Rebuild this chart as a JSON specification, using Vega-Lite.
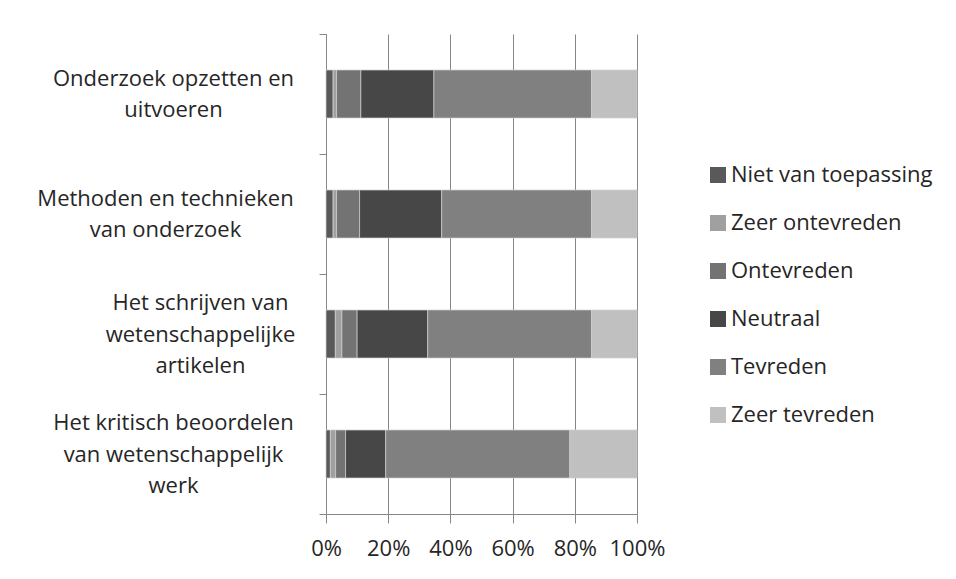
{
  "$schema": "https://vega.github.io/schema/vega-lite/v6.json",
  "width": 311,
  "height": 480,
  "autosize": {"type": "none"},
  "padding": {"left": 326, "top": 34, "right": 319, "bottom": 65},
  "background": "white",
  "config": {
    "view": {"stroke": null},
    "font": "Open Sans",
    "axis": {"labelFont": "Open Sans", "labelColor": "#262626", "labelFontSize": 22}
  },
  "data": {
    "values": [
      {"item": "Onderzoek opzetten en|uitvoeren", "response": "Niet van toepassing", "rank": 1, "pct": 2.3},
      {"item": "Onderzoek opzetten en|uitvoeren", "response": "Zeer ontevreden", "rank": 2, "pct": 1.1},
      {"item": "Onderzoek opzetten en|uitvoeren", "response": "Ontevreden", "rank": 3, "pct": 7.8},
      {"item": "Onderzoek opzetten en|uitvoeren", "response": "Neutraal", "rank": 4, "pct": 23.5},
      {"item": "Onderzoek opzetten en|uitvoeren", "response": "Tevreden", "rank": 5, "pct": 50.7},
      {"item": "Onderzoek opzetten en|uitvoeren", "response": "Zeer tevreden", "rank": 6, "pct": 14.6},
      {"item": "Methoden en technieken|van onderzoek", "response": "Niet van toepassing", "rank": 1, "pct": 2.3},
      {"item": "Methoden en technieken|van onderzoek", "response": "Zeer ontevreden", "rank": 2, "pct": 1.1},
      {"item": "Methoden en technieken|van onderzoek", "response": "Ontevreden", "rank": 3, "pct": 7.4},
      {"item": "Methoden en technieken|van onderzoek", "response": "Neutraal", "rank": 4, "pct": 26.4},
      {"item": "Methoden en technieken|van onderzoek", "response": "Tevreden", "rank": 5, "pct": 48.2},
      {"item": "Methoden en technieken|van onderzoek", "response": "Zeer tevreden", "rank": 6, "pct": 14.6},
      {"item": "Het schrijven van|wetenschappelijke|artikelen", "response": "Niet van toepassing", "rank": 1, "pct": 3.0},
      {"item": "Het schrijven van|wetenschappelijke|artikelen", "response": "Zeer ontevreden", "rank": 2, "pct": 2.1},
      {"item": "Het schrijven van|wetenschappelijke|artikelen", "response": "Ontevreden", "rank": 3, "pct": 4.9},
      {"item": "Het schrijven van|wetenschappelijke|artikelen", "response": "Neutraal", "rank": 4, "pct": 22.7},
      {"item": "Het schrijven van|wetenschappelijke|artikelen", "response": "Tevreden", "rank": 5, "pct": 52.7},
      {"item": "Het schrijven van|wetenschappelijke|artikelen", "response": "Zeer tevreden", "rank": 6, "pct": 14.6},
      {"item": "Het kritisch beoordelen|van wetenschappelijk|werk", "response": "Niet van toepassing", "rank": 1, "pct": 1.4},
      {"item": "Het kritisch beoordelen|van wetenschappelijk|werk", "response": "Zeer ontevreden", "rank": 2, "pct": 1.7},
      {"item": "Het kritisch beoordelen|van wetenschappelijk|werk", "response": "Ontevreden", "rank": 3, "pct": 3.2},
      {"item": "Het kritisch beoordelen|van wetenschappelijk|werk", "response": "Neutraal", "rank": 4, "pct": 12.9},
      {"item": "Het kritisch beoordelen|van wetenschappelijk|werk", "response": "Tevreden", "rank": 5, "pct": 59.2},
      {"item": "Het kritisch beoordelen|van wetenschappelijk|werk", "response": "Zeer tevreden", "rank": 6, "pct": 21.6}
    ]
  },
  "mark": {"type": "bar", "stroke": "#d0d0d0", "strokeWidth": 0.7, "height": {"band": 0.4}},
  "encoding": {
    "y": {
      "field": "item",
      "type": "nominal",
      "sort": [
        "Onderzoek opzetten en|uitvoeren",
        "Methoden en technieken|van onderzoek",
        "Het schrijven van|wetenschappelijke|artikelen",
        "Het kritisch beoordelen|van wetenschappelijk|werk"
      ],
      "scale": {"paddingInner": 0, "paddingOuter": 0},
      "axis": {
        "title": null,
        "labelExpr": "split(datum.label, '|')",
        "labelAlign": "center",
        "labelBaseline": "middle",
        "labelLineHeight": 31.5,
        "labelLimit": 400,
        "labelPadding": {"expr": "(datum && datum.value) ? (indexof(datum.value, 'Methoden') == 0 ? 154 : indexof(datum.value, 'Het schrijven') == 0 ? 119 : 146) : 146"},
        "labelOffset": {"expr": "(datum && datum.value) ? -(length(split(datum.value, '|')) - 1) * 15.75 : 0"},
        "domainColor": "#868686",
        "tickColor": "#868686",
        "tickBand": "extent",
        "tickSize": 7,
        "grid": false
      }
    },
    "x": {
      "field": "pct",
      "type": "quantitative",
      "stack": "zero",
      "scale": {"domain": [0, 100], "nice": false},
      "axis": {
        "title": null,
        "values": [0, 20, 40, 60, 80, 100],
        "labelExpr": "datum.value + '%'",
        "labelOverlap": false,
        "labelFlush": false,
        "grid": true,
        "gridColor": "#868686",
        "domainColor": "#868686",
        "tickColor": "#868686",
        "tickSize": 9,
        "labelPadding": 15
      }
    },
    "color": {
      "field": "response",
      "type": "nominal",
      "scale": {
        "domain": ["Niet van toepassing", "Zeer ontevreden", "Ontevreden", "Neutraal", "Tevreden", "Zeer tevreden"],
        "range": ["#595959", "#a0a0a0", "#737373", "#474747", "#808080", "#c0c0c0"]
      },
      "legend": {
        "title": null,
        "orient": "none",
        "legendX": 381,
        "legendY": 130,
        "symbolType": "square",
        "symbolSize": 256,
        "symbolStrokeWidth": 0,
        "labelFont": "Open Sans",
        "labelFontSize": 22,
        "labelColor": "#262626",
        "labelLimit": 300,
        "labelOffset": 2,
        "rowPadding": 26
      }
    },
    "order": {"field": "rank", "type": "quantitative"}
  }
}
